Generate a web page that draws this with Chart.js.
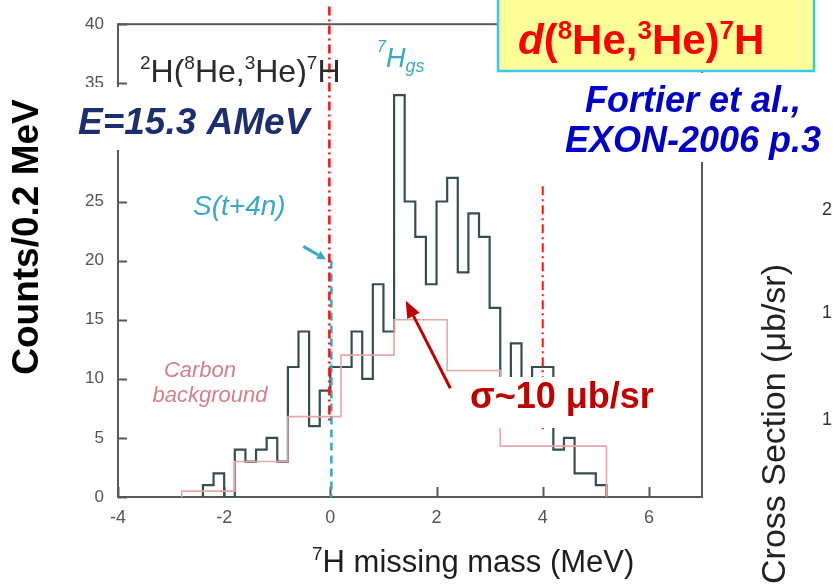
<!DOCTYPE html>
<html>
<head>
<meta charset="utf-8">
<script src="https://cdn.jsdelivr.net/npm/chart.js@4"></script>
<style>
  html, body { margin: 0; padding: 0; background: #fff; overflow: hidden; }
  canvas { display: block; }
</style>
</head>
<body>
<canvas id="c" width="833" height="584"></canvas>
<script>
// 7H missing-mass spectrum, counts per 0.2 MeV bin starting at -2.4 MeV
const countsBinStart = -2.4;
const countsBinWidth = 0.2;
const counts = [1, 2, 0, 4, 3, 4, 5, 3,
                11, 14, 6, 9,
                11, 11, 14, 10, 18, 14,
                34, 25, 22, 18, 25, 27, 19, 24, 22, 16,
                8, 13, 8, 11, 11,
                4, 5, 2, 2, 1];

// Carbon background, 1 MeV bins starting at -2.8 MeV
const bgBinStart = -2.8;
const bgBinWidth = 1.0;
const background = [0.5, 3, 6.8, 12, 15, 10.7, 4.3, 4.3];

// Axis ticks
const xTicks = [-4, -2, 0, 2, 4, 6];
const yTicks = [0, 5, 10, 15, 20, 25, 30, 35, 40];

const FONT = '"Liberation Sans", Arial, Helvetica, sans-serif';

// Turn bin contents into the corner points of a step outline
function stepOutline(start, width, values) {
  const pts = [{ x: start, y: 0 }];
  values.forEach((v, i) => {
    const lo = start + i * width;
    const hi = start + (i + 1) * width;
    pts.push({ x: lo, y: v }, { x: hi, y: v });
  });
  pts.push({ x: start + values.length * width, y: 0 });
  return pts;
}

// Draw a run of text pieces with their own font / vertical offset
function richText(ctx, parts, x, y, align, color) {
  let w = 0;
  parts.forEach(p => { ctx.font = p.f; w += ctx.measureText(p.t).width; });
  let cx = align === 'center' ? x - w / 2 : align === 'right' ? x - w : x;
  ctx.fillStyle = color;
  ctx.textAlign = 'left';
  ctx.textBaseline = 'alphabetic';
  parts.forEach(p => {
    ctx.font = p.f;
    ctx.fillText(p.t, cx, y + (p.dy || 0));
    cx += ctx.measureText(p.t).width;
  });
}

function arrow(ctx, x1, y1, x2, y2, color, width, headLen, headW) {
  const ang = Math.atan2(y2 - y1, x2 - x1);
  const bx = x2 - headLen * Math.cos(ang);
  const by = y2 - headLen * Math.sin(ang);
  ctx.save();
  ctx.strokeStyle = color;
  ctx.fillStyle = color;
  ctx.lineWidth = width;
  ctx.setLineDash([]);
  ctx.beginPath();
  ctx.moveTo(x1, y1);
  ctx.lineTo(bx, by);
  ctx.stroke();
  ctx.beginPath();
  ctx.moveTo(x2, y2);
  ctx.lineTo(bx + headW / 2 * Math.sin(ang), by - headW / 2 * Math.cos(ang));
  ctx.lineTo(bx - headW / 2 * Math.sin(ang), by + headW / 2 * Math.cos(ang));
  ctx.closePath();
  ctx.fill();
  ctx.restore();
}

const framePlugin = {
  id: 'frame',
  beforeDatasetsDraw(chart) {
    const { ctx, chartArea: a, scales: { x, y } } = chart;
    ctx.save();
    ctx.strokeStyle = '#555a5a';
    ctx.lineWidth = 2;
    ctx.strokeRect(a.left, a.top, a.right - a.left, a.bottom - a.top);
    // inward tick marks
    ctx.beginPath();
    yTicks.forEach(v => {
      const py = Math.round(y.getPixelForValue(v)) + 0.5;
      ctx.moveTo(a.left, py);
      ctx.lineTo(a.left + 9, py);
    });
    xTicks.forEach(v => {
      const px = Math.round(x.getPixelForValue(v)) + 0.5;
      ctx.moveTo(px, a.bottom);
      ctx.lineTo(px, a.bottom - 10);
    });
    ctx.stroke();
    ctx.restore();
  }
};

const notesPlugin = {
  id: 'notes',
  afterDraw(chart) {
    const { ctx, scales: { x, y } } = chart;
    const X = v => x.getPixelForValue(v);
    const Y = v => y.getPixelForValue(v);
    ctx.save();

    // threshold S(t+4n): dashed line at 0 MeV
    ctx.strokeStyle = '#3aa8c6';
    ctx.lineWidth = 2.5;
    ctx.setLineDash([8, 5]);
    ctx.beginPath();
    ctx.moveTo(X(0) + 1, Y(20));
    ctx.lineTo(X(0) + 1, Y(0));
    ctx.stroke();
    arrow(ctx, X(-0.51), Y(21.2), X(-0.08), Y(20.1), '#3aa8c6', 3, 9, 9);

    // red dash-dot markers at 0 and 4 MeV
    ctx.strokeStyle = '#ff1010';
    ctx.lineWidth = 2.5;
    ctx.setLineDash([9, 4, 2, 4]);
    ctx.beginPath();
    ctx.moveTo(X(0) - 1, Y(41.5));
    ctx.lineTo(X(0) - 1, Y(6.2));
    ctx.stroke();
    ctx.lineWidth = 2;
    ctx.beginPath();
    ctx.moveTo(X(4), Y(26.3));
    ctx.lineTo(X(4), Y(5.6));
    ctx.stroke();
    ctx.setLineDash([]);

    // labels inside the frame
    richText(ctx, [
      { t: '2', f: `19px ${FONT}`, dy: -13 },
      { t: 'H(', f: `32px ${FONT}` },
      { t: '8', f: `19px ${FONT}`, dy: -13 },
      { t: 'He,', f: `32px ${FONT}` },
      { t: '3', f: `19px ${FONT}`, dy: -13 },
      { t: 'He)', f: `32px ${FONT}` },
      { t: '7', f: `19px ${FONT}`, dy: -13 },
      { t: 'H', f: `32px ${FONT}` }
    ], 140, 82, 'left', '#2b2b2b');

    richText(ctx, [
      { t: '7', f: `italic 16px ${FONT}`, dy: -15 },
      { t: 'H', f: `italic 27px ${FONT}` },
      { t: 'gs', f: `italic 18px ${FONT}`, dy: 5 }
    ], 377, 67, 'left', '#3aa8c6');

    richText(ctx, [{ t: 'S(t+4n)', f: `italic 28px ${FONT}` }], 193, 215, 'left', '#3aa8c6');

    richText(ctx, [{ t: 'Carbon', f: `italic 22px ${FONT}` }], 200, 377, 'center', '#d4808a');
    richText(ctx, [{ t: 'background', f: `italic 22px ${FONT}` }], 210, 402, 'center', '#d4808a');

    // beam energy
    ctx.fillStyle = '#ffffff';
    ctx.fillRect(60, 87, 267, 63);
    richText(ctx, [{ t: 'E=15.3 AMeV', f: `italic bold 37px ${FONT}` }], 78, 134, 'left', '#1b2f6e');

    // reaction title box
    ctx.fillStyle = '#ffff99';
    ctx.fillRect(497, -2, 318, 74);
    ctx.strokeStyle = '#33ccee';
    ctx.lineWidth = 2.5;
    ctx.strokeRect(498, -2, 316, 73);
    richText(ctx, [
      { t: 'd', f: `italic bold 42px ${FONT}` },
      { t: '(', f: `bold 42px ${FONT}` },
      { t: '8', f: `bold 26px ${FONT}`, dy: -15 },
      { t: 'He,', f: `bold 42px ${FONT}` },
      { t: '3', f: `bold 26px ${FONT}`, dy: -15 },
      { t: 'He)', f: `bold 42px ${FONT}` },
      { t: '7', f: `bold 26px ${FONT}`, dy: -15 },
      { t: 'H', f: `bold 42px ${FONT}` }
    ], 518, 54, 'left', '#ff0000');

    // reference
    ctx.fillStyle = '#ffffff';
    ctx.fillRect(552, 73, 281, 89);
    richText(ctx, [{ t: 'Fortier et al.,', f: `italic bold 36px ${FONT}` }], 693, 112, 'center', '#0000c8');
    richText(ctx, [{ t: 'EXON-2006 p.3', f: `italic bold 36px ${FONT}` }], 693, 152, 'center', '#0000c8');

    // cross-section note
    ctx.fillStyle = '#ffffff';
    ctx.fillRect(455, 377, 212, 51);
    richText(ctx, [{ t: 'σ~10 μb/sr', f: `bold 36px ${FONT}` }], 470, 408, 'left', '#c00000');
    arrow(ctx, X(2.26), Y(9.2), X(1.42), Y(16.6), '#c00000', 3, 17, 14);

    // axis titles
    ctx.save();
    ctx.translate(28, 237);
    ctx.rotate(-Math.PI / 2);
    ctx.fillStyle = '#000';
    ctx.font = `bold 37px ${FONT}`;
    ctx.textAlign = 'center';
    ctx.textBaseline = 'middle';
    ctx.fillText('Counts/0.2 MeV', 0, 0);
    ctx.restore();

    richText(ctx, [
      { t: '7', f: `19px ${FONT}`, dy: -12 },
      { t: 'H missing mass (MeV)', f: `31px ${FONT}` }
    ], 312, 572, 'left', '#1e1e1e');

    // neighbouring panel edge
    ctx.save();
    ctx.translate(776, 264);
    ctx.rotate(-Math.PI / 2);
    ctx.fillStyle = '#222';
    ctx.font = `34px ${FONT}`;
    ctx.textAlign = 'right';
    ctx.textBaseline = 'middle';
    ctx.fillText('Cross Section (μb/sr)', 0, 0);
    ctx.restore();
    ctx.fillStyle = '#333';
    ctx.font = `18px ${FONT}`;
    ctx.textAlign = 'left';
    ctx.textBaseline = 'middle';
    ctx.fillText('2', 822, 210);
    ctx.fillText('1', 822, 313);
    ctx.fillText('1', 822, 420);

    ctx.restore();
  }
};

new Chart(document.getElementById('c'), {
  type: 'line',
  data: {
    datasets: [
      {
        label: 'Carbon background',
        data: stepOutline(bgBinStart, bgBinWidth, background),
        borderColor: '#e6a7aa',
        borderWidth: 1.6,
        pointRadius: 0,
        fill: false
      },
      {
        label: '2H(8He,3He)7H',
        data: stepOutline(countsBinStart, countsBinWidth, counts),
        borderColor: '#354f4f',
        borderWidth: 2.2,
        pointRadius: 0,
        fill: false
      }
    ]
  },
  options: {
    responsive: false,
    animation: false,
    devicePixelRatio: 1,
    layout: { padding: { left: 0, right: 131, top: 18, bottom: 0 } },
    plugins: {
      legend: { display: false },
      tooltip: { enabled: false }
    },
    scales: {
      x: {
        type: 'linear',
        min: -4,
        max: 7,
        afterFit(s) { s.height = 87; },
        afterBuildTicks(s) { s.ticks = xTicks.map(v => ({ value: v })); },
        grid: { display: false, drawTicks: false },
        border: { display: false },
        ticks: { color: '#555', font: { family: FONT, size: 18 }, padding: 10, maxRotation: 0, autoSkip: false }
      },
      y: {
        type: 'linear',
        min: 0,
        max: 40,
        afterFit(s) { s.width = 118; },
        afterBuildTicks(s) { s.ticks = yTicks.map(v => ({ value: v })); },
        grid: { display: false, drawTicks: false },
        border: { display: false },
        ticks: { color: '#555', font: { family: FONT, size: 17 }, padding: 14, autoSkip: false }
      }
    }
  },
  plugins: [framePlugin, notesPlugin]
});
</script>
</body>
</html>
